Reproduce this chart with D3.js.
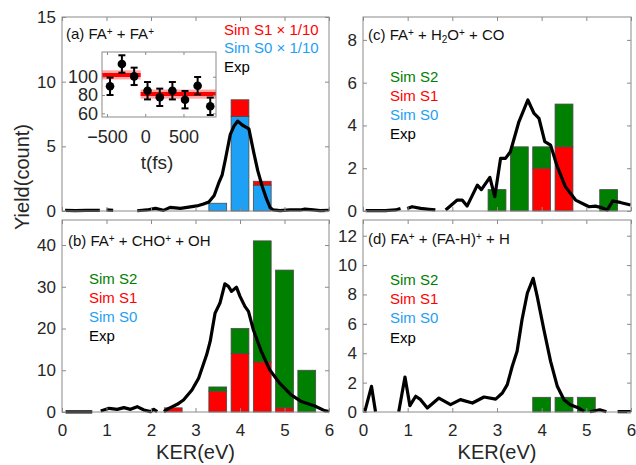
<!DOCTYPE html>
<html>
<head>
<meta charset="utf-8">
<script src="https://cdn.jsdelivr.net/npm/d3@7"></script>
<style>
  body { margin: 0; background: #fff; }
  text { font-family: "Liberation Sans", Arial, Helvetica, sans-serif; }
</style>
</head>
<body>
<div id="fig"></div>
<script>
// ---- simulated yields (bar centres in eV) ----
var binsA = [3.5, 4.0, 4.5];
var simA_S0 = [0.6, 7.3, 2.0];
var simA_S1 = [0, 1.3, 0.3];

var binsB = [2.5, 3.0, 3.5, 4.0, 4.5, 5.0, 5.5];
var simB_S1 = [1, 0, 5, 14, 12, 1, 0];
var simB_S2 = [0, 0, 1, 6, 29, 33, 10];

var binsC = [3.0, 3.5, 4.0, 4.5, 5.5];
var simC_S1 = [0, 0, 2, 3, 0];
var simC_S2 = [1, 3, 1, 2, 1];

var binsD = [4.0, 4.5, 5.0];
var simD_S2 = [1, 1, 1];

// ---- experimental KER curves (null = gap in the line) ----
var expA_ker = [0.07, 0.3, 0.55, 0.85, 0.92, 1.0, 1.15, 1.4,
  1.69, 1.91, 2.1, 2.28, 2.43, 2.66, 2.81, 3.03, 3.18, 3.3, 3.42, 3.52, 3.6, 3.67, 3.78, 3.87, 3.95,
  4.05, 4.2, 4.31, 4.4, 4.5, 4.6, 4.68, 4.75, 4.9, 5.12, 5.35, 5.46, 5.65, 5.8, 6.0];
var expA_val = [0.05, 0.03, 0.05, 0.05, null, 0.08, 0.05, null,
  0.02, 0.08, 0.2, 0.05, 0.28, 0.2, 0.28, 0.39, 0.54, 0.7, 1.2, 2.15, 2.8, 3.96, 5.9, 6.6, 6.95,
  6.65, 6.35, 4.5, 3.1, 1.9, 0.9, 0.25, 0.08, 0.03, 0.08, 0.08, 0.15, 0.08, 0.03, 0.05];

var expB_ker = [0.08, 0.4, 0.68, 0.78,
  0.87, 1.06, 1.24, 1.39, 1.54, 1.69, 1.84, 1.99, 2.06, 2.14, 2.2,
  2.29, 2.4, 2.59, 2.73, 2.92, 3.07, 3.25, 3.33, 3.44, 3.55, 3.66, 3.74, 3.81, 3.92, 4.0, 4.11, 4.19,
  4.3, 4.48, 4.67, 4.89, 5.15, 5.38, 5.68, 5.9, 6.0];
var expB_val = [0.05, 0.05, 0.05, null,
  0.24, 0.88, 0.64, 1.04, 0.64, 1.28, 0.48, 0.08, 0.64, 0.08, null,
  0.08, 0.88, 1.84, 2.88, 5.28, 8.08, 13.7, 16.9, 23.7, 26.1, 30.7, 30.1, 28.9, 29.9, 27.7, 25.3, 24.1,
  19.7, 14.5, 10.1, 6.9, 4.1, 2.5, 1.44, 0.32, 0.1];

var expC_ker = [0.06, 0.5, 0.73, 0.84, 0.9,
  0.99, 1.1, 1.29, 1.48, 1.62, 1.7,
  1.85, 2.11, 2.22, 2.33, 2.56, 2.65, 2.84, 2.95, 3.08, 3.19, 3.3, 3.49, 3.69, 3.83, 3.94,
  4.07, 4.2, 4.35, 4.53, 4.76, 5.06, 5.2, 5.32, 5.47, 5.59, 5.76, 5.99];
var expC_val = [0.02, 0.02, 0.05, 0.12, null,
  0.12, 0.2, 0.12, 0.08, 0.05, null,
  0.05, 0.51, 0.51, 0.23, 1.21, 1.0, 1.57, 0.67, 2.46, 2.46, 2.77, 4.17, 5.19, 4.56, 4.33,
  3.24, 3.08, 2.07, 1.14, 0.51, 0.2, 0.23, 0.17, 0.05, 0.47, 0.4, 0.28];

var expD_ker = [0.04, 0.19, 0.28, 0.5,
  0.8, 0.94, 1.05, 1.18, 1.29, 1.44, 1.7, 1.96, 2.18, 2.45, 2.71, 2.97, 3.12, 3.23, 3.34, 3.45,
  3.56, 3.68, 3.81, 3.9, 4.05, 4.2, 4.35, 4.5, 4.64, 4.83, 4.95, 5.0,
  5.08, 5.3, 5.45, 5.6,
  5.7, 6.0];
var expD_val = [0.02, 1.75, 0.02, null,
  0.02, 2.38, 0.43, 1.07, 0.84, 0.27, 0.95, 0.5, 0.84, 0.61, 1.02, 0.88, 1.29, 1.86, 3.1, 4.13,
  6.28, 8.1, 9.1, 7.87, 5.6, 3.45, 1.75, 0.84, 0.5, 0.27, 0.05, null,
  0.02, 0.15, 0.02, null,
  0.02, 0.02];

// ---- inset of panel (a): yield vs delay ----
var insetT = [-460, -305, -145, 30, 190, 355, 520, 685, 850];
var insetY = [89.5, 113.9, 100.4, 84.7, 77.5, 84.7, 74.9, 90.2, 67.7];
var insetErr = [9.5, 9.5, 9.5, 9.5, 9.5, 9.5, 9.5, 9.5, 9.5];
var fitT = [-565, -60, 925];   // step edges
var fitY = [102, 81];          // fitted level on each step
var fitBand = 5;               // half width of the light band

var colS0 = "#1ea0f5", colS1 = "#ff0000", colS2 = "#008000";
var frameCol = "#8a8a8a", labelCol = "#262626";

var svg = d3.select("#fig").append("svg")
  .attr("width", 636).attr("height", 465);

function zip(k, v) {
  return k.map(function(x, i) { return {x: x, y: v[i]}; });
}

// one panel = frame + ticks + stacked bars + exp line + texts
function drawPanel(p) {
  var x = d3.scaleLinear().domain([0, 6]).range([p.x0, p.x1]);
  var y = d3.scaleLinear().domain([0, p.ymax]).range([p.y1, p.y0]);
  var g = svg.append("g");

  // stacked bars
  var bw = x(0.4) - x(0);
  p.bins.forEach(function(b, i) {
    var base = 0, total = 0;
    p.layers.forEach(function(L) { total += L.vals[i]; });
    if (total === 0) {
      g.append("rect").attr("x", x(b) - bw / 2).attr("y", y(0))
        .attr("width", bw).attr("height", 0)
        .attr("fill", "none").attr("stroke", "#555").attr("stroke-width", 0.8);
    }
    p.layers.forEach(function(L) {
      var v = L.vals[i];
      if (v <= 0) return;
      g.append("rect")
        .attr("x", x(b) - bw / 2)
        .attr("y", y(base + v))
        .attr("width", bw)
        .attr("height", y(base) - y(base + v))
        .attr("fill", L.color)
        .attr("stroke", "#4a4a4a").attr("stroke-width", 0.8);
      base += v;
    });
  });

  // experimental curve
  var line = d3.line()
    .defined(function(d) { return d.y !== null; })
    .x(function(d) { return x(d.x); })
    .y(function(d) { return y(d.y); });
  g.append("path").datum(zip(p.expK, p.expV))
    .attr("d", line).attr("fill", "none")
    .attr("stroke", "#000").attr("stroke-width", 3.2)
    .attr("stroke-linejoin", "round");

  // axes, ticks inward on all four sides
  var xt = [0, 1, 2, 3, 4, 5, 6];
  var styleAxis = function(sel) {
    sel.select(".domain").remove();
    sel.selectAll(".tick line").attr("stroke", frameCol);
    sel.selectAll(".tick text").attr("fill", labelCol)
      .style("font-size", "17px").style("font-family", '"Liberation Sans", Arial, sans-serif');
  };
  g.append("g").attr("transform", "translate(0," + p.y1 + ")")
    .call(d3.axisBottom(x).tickValues(xt).tickSize(-4).tickPadding(12)
      .tickFormat(p.xlabels ? d3.format("d") : ""))
    .call(styleAxis);
  g.append("g").attr("transform", "translate(0," + p.y0 + ")")
    .call(d3.axisTop(x).tickValues(xt).tickSize(-4).tickFormat(""))
    .call(styleAxis);
  g.append("g").attr("transform", "translate(" + p.x0 + ",0)")
    .call(d3.axisLeft(y).tickValues(p.yticks).tickSize(-4).tickPadding(6))
    .call(styleAxis);
  g.append("g").attr("transform", "translate(" + p.x1 + ",0)")
    .call(d3.axisRight(y).tickValues(p.yticks).tickSize(-4).tickFormat(""))
    .call(styleAxis);
  g.append("rect").attr("x", p.x0).attr("y", p.y0)
    .attr("width", p.x1 - p.x0).attr("height", p.y1 - p.y0)
    .attr("fill", "none").attr("stroke", frameCol).attr("stroke-width", 1);

  // panel title with super/subscripts
  var t = g.append("text").attr("x", p.titleX).attr("y", p.titleY)
    .attr("fill", "#111").style("font-size", "15px");
  p.title.forEach(function(part) {
    var s = t.append("tspan").text(part[0]);
    if (part[1] === "sup") s.attr("baseline-shift", "45%").style("font-size", "10px");
    if (part[1] === "sub") s.attr("baseline-shift", "-30%").style("font-size", "10px");
  });

  // legend (coloured text entries)
  p.legend.forEach(function(L, i) {
    g.append("text").attr("x", p.legX).attr("y", p.legY + i * p.legDy)
      .attr("fill", L[1]).style("font-size", "15px").text(L[0]);
  });
  return {x: x, y: y};
}

var legend3 = [["Sim S2", colS2], ["Sim S1", colS1], ["Sim S0", colS0], ["Exp", "#000"]];

drawPanel({
  x0: 62, x1: 329, y0: 17, y1: 211, ymax: 15, yticks: [0, 5, 10, 15], xlabels: false,
  bins: binsA, layers: [{vals: simA_S0, color: colS0}, {vals: simA_S1, color: colS1}],
  expK: expA_ker, expV: expA_val,
  title: [["(a) FA"], ["+", "sup"], [" + FA"], ["+", "sup"]], titleX: 66, titleY: 39,
  legend: [["Sim S1 \u00d7 1/10", colS1], ["Sim S0 \u00d7 1/10", colS0], ["Exp", "#000"]],
  legX: 224, legY: 34.5, legDy: 18.5
});
drawPanel({
  x0: 62, x1: 329, y0: 220, y1: 412, ymax: 46, yticks: [0, 10, 20, 30, 40], xlabels: true,
  bins: binsB, layers: [{vals: simB_S1, color: colS1}, {vals: simB_S2, color: colS2}],
  expK: expB_ker, expV: expB_val,
  title: [["(b) FA"], ["+", "sup"], [" + CHO"], ["+", "sup"], [" + OH"]], titleX: 68, titleY: 246,
  legend: legend3, legX: 89, legY: 284, legDy: 19
});
drawPanel({
  x0: 363, x1: 631, y0: 17, y1: 211, ymax: 9.07, yticks: [0, 2, 4, 6, 8], xlabels: false,
  bins: binsC, layers: [{vals: simC_S1, color: colS1}, {vals: simC_S2, color: colS2}],
  expK: expC_ker, expV: expC_val,
  title: [["(c) FA"], ["+", "sup"], [" + H"], ["2", "sub"], ["O"], ["+", "sup"], [" + CO"]], titleX: 368, titleY: 40,
  legend: legend3, legX: 390, legY: 81.7, legDy: 19.2
});
drawPanel({
  x0: 363, x1: 631, y0: 220, y1: 412, ymax: 13.07, yticks: [0, 2, 4, 6, 8, 10, 12], xlabels: true,
  bins: binsD, layers: [{vals: simD_S2, color: colS2}],
  expK: expD_ker, expV: expD_val,
  title: [["(d) FA"], ["+", "sup"], [" + (FA-H)"], ["+", "sup"], [" + H"]], titleX: 368, titleY: 244,
  legend: legend3, legX: 390, legY: 284.7, legDy: 19.3
});

// ---- inset ----
var ix = d3.scaleLinear().domain([-565, 925]).range([102, 216]);
var iy = d3.scaleLinear().domain([56, 127]).range([117, 52]);
var ins = svg.append("g");
ins.append("rect").attr("x", 102).attr("y", 52).attr("width", 114).attr("height", 65)
  .attr("fill", "#fff");
fitY.forEach(function(v, i) {
  ins.append("rect").attr("x", ix(fitT[i])).attr("y", iy(v + fitBand))
    .attr("width", ix(fitT[i + 1]) - ix(fitT[i])).attr("height", iy(v - fitBand) - iy(v + fitBand))
    .attr("fill", "#ff0000").attr("fill-opacity", 0.35);
  ins.append("line").attr("x1", ix(fitT[i])).attr("x2", ix(fitT[i + 1]))
    .attr("y1", iy(v)).attr("y2", iy(v))
    .attr("stroke", "#ff0000").attr("stroke-width", 4);
});
var pts = insetT.map(function(t, i) { return {t: t, v: insetY[i], e: insetErr[i]}; });
var eb = ins.selectAll(".eb").data(pts).enter().append("g").attr("class", "eb");
eb.append("line").attr("x1", d => ix(d.t)).attr("x2", d => ix(d.t))
  .attr("y1", d => iy(d.v - d.e)).attr("y2", d => iy(d.v + d.e))
  .attr("stroke", "#000").attr("stroke-width", 2);
[-1, 1].forEach(function(s) {
  eb.append("line").attr("x1", d => ix(d.t) - 3.5).attr("x2", d => ix(d.t) + 3.5)
    .attr("y1", d => iy(d.v + s * d.e)).attr("y2", d => iy(d.v + s * d.e))
    .attr("stroke", "#000").attr("stroke-width", 2);
});
eb.append("circle").attr("cx", d => ix(d.t)).attr("cy", d => iy(d.v)).attr("r", 4.3)
  .attr("fill", "#000");

var insStyle = function(sel) {
  sel.select(".domain").remove();
  sel.selectAll(".tick line").attr("stroke", frameCol);
  sel.selectAll(".tick text").attr("fill", labelCol).style("font-size", "18px")
    .style("font-family", '"Liberation Sans", Arial, sans-serif');
};
ins.append("g").attr("transform", "translate(0,117)")
  .call(d3.axisBottom(ix).tickValues([-500, 0, 500]).tickSize(-3).tickPadding(13)).call(insStyle);
ins.append("g").attr("transform", "translate(0,52)")
  .call(d3.axisTop(ix).tickValues([-500, 0, 500]).tickSize(-3).tickFormat("")).call(insStyle);
ins.append("g").attr("transform", "translate(102,0)")
  .call(d3.axisLeft(iy).tickValues([60, 80, 100]).tickSize(-3).tickPadding(4)).call(insStyle);
ins.append("g").attr("transform", "translate(216,0)")
  .call(d3.axisRight(iy).tickValues([60, 80, 100]).tickSize(-3).tickFormat("")).call(insStyle);
ins.append("rect").attr("x", 102).attr("y", 52).attr("width", 114).attr("height", 65)
  .attr("fill", "none").attr("stroke", frameCol);
ins.append("text").attr("x", 157).attr("y", 169).attr("text-anchor", "middle")
  .attr("fill", labelCol).style("font-size", "19px").text("t(fs)");

// ---- shared axis labels ----
svg.append("text").attr("transform", "translate(29,177) rotate(-90)")
  .attr("text-anchor", "middle").attr("fill", labelCol).style("font-size", "20px")
  .text("Yield(count)");
[195.5, 497].forEach(function(cx) {
  svg.append("text").attr("x", cx).attr("y", 459).attr("text-anchor", "middle")
    .attr("fill", labelCol).style("font-size", "20px").text("KER(eV)");
});
</script>
</body>
</html>
